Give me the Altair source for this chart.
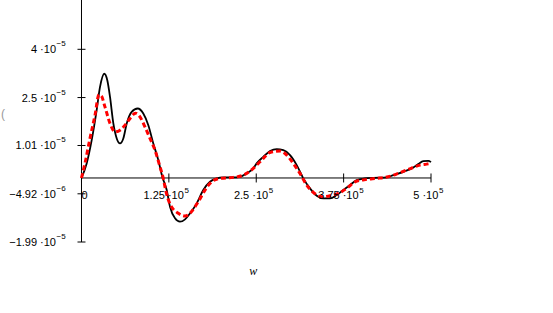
import altair as alt
import pandas as pd

# ---------------- data ----------------
# w in thousands, value in 1e-6
black_w_k = [0, 7.4, 14.6, 21.7, 26.5, 32.6, 36.9, 40.8, 45.5, 50.4,
             55.1, 59.8, 64.7, 71.8, 80.4, 88.4, 95.6, 102.7, 109.9, 115.6,
             121.9, 126.6, 133.8, 140.9, 148.1, 155.3, 164.8, 174.2, 183.8, 193.4,
             202.9, 217.2, 226.7, 236.3, 245.8, 250.6, 260.1, 269.7, 279.3, 288.7,
             298.3, 307.9, 317.3, 326.9, 336.5, 345.9, 355.5, 365.1, 374.5, 384.1,
             393.7, 405.6, 417.4, 436.6, 446.1, 460.4, 472.4, 481.8, 489.0, 496.1, 500]
black_v_u = [0, 4.53, 11.76, 21.07, 28.30, 32.4, 30.38, 25.20, 17.04, 12.29,
             10.74, 12.29, 16.94, 20.54, 21.60, 20.04, 16.41, 10.74, 5.55, 0.37,
             -3.75, -8.94, -12.54, -13.59, -12.85, -10.98, -7.88, -3.75, -1.18, -0.12,
             0.19, 0.19, 0.37, 1.43, 2.98, 4.53, 6.58, 8.35, 8.97, 8.66,
             7.11, 4.01, -0.12, -3.23, -5.52, -6.33, -6.33, -5.31, -3.75, -2.20,
             -0.65, -0.12, 0.06, 0.19, 0.90, 1.92, 2.98, 4.31, 5.24, 5.34, 4.93]

red_w_k = [0, 5.0, 12.2, 19.3, 25.0, 28.5, 33.6, 40.8, 47.9, 55.1,
           62.2, 69.4, 77.3, 83.7, 90.8, 98.0, 105.1, 112.3, 117.0, 120.5,
           126.6, 138.5, 148.1, 167.1, 176.7, 186.3, 198.1, 217.2, 231.5, 245.8,
           250.6, 260.1, 269.7, 284.0, 293.6, 303.0, 312.6, 322.2, 331.6, 343.6,
           355.5, 367.4, 379.4, 391.3, 408.0, 422.3, 438.9, 453.2, 467.5, 484.3,
           493.8, 500]
red_v_u = [0, 4.62, 12.38, 19.52, 25.9, 25.5, 22.09, 16.94, 14.34, 14.86,
           16.41, 18.49, 20.14, 19.0, 15.89, 12.29, 8.66, 3.48, -0.12, -3.9,
           -8.1, -10.98, -11.82, -7.38, -3.75, -1.18, -0.12, 0.19, 0.90, 2.98,
           4.0, 6.08, 7.94, 8.35, 7.11, 4.53, 1.43, -2.20, -4.47, -5.83,
           -5.52, -4.78, -3.23, -1.18, -0.43, -0.12, 0.37, 1.43, 2.67, 4.00,
           4.31, 4.53]

y_tick_values = [4e-5, 2.5e-5, 1.01e-5, -4.92e-6, -1.99e-5]
y_tick_mant = ["4", "2.5", "1.01", "\u22124.92", "\u22121.99"]
y_tick_exp = ["\u22125", "\u22125", "\u22125", "\u22126", "\u22125"]

x_tick_values = [0, 1.25e5, 2.5e5, 3.75e5, 5e5]
x_tick_mant = ["0", "1.25", "2.5", "3.75", "5"]
x_tick_exp = ["", "5", "5", "5", "5"]

x_title = "w"
y_title_fragment = "("

# ---------------- layout ----------------
W, H = 553, 313
X_DOMAIN = [-116595, 674535]
Y_DOMAIN = [-4.197e-5, 5.5325e-5]
Y_AXIS_BOTTOM = y_tick_values[-1]
X_AXIS_END = x_tick_values[-1]

xs = alt.Scale(domain=X_DOMAIN, nice=False, zero=False)
ys = alt.Scale(domain=Y_DOMAIN, nice=False, zero=False)


def XD(v):
    return alt.XDatum(v, type="quantitative", scale=xs, axis=None)


def YD(v):
    return alt.YDatum(v, type="quantitative", scale=ys, axis=None)


FONT = "Liberation Sans"

black_df = pd.DataFrame({"w": [w * 1e3 for w in black_w_k],
                         "v": [v * 1e-6 for v in black_v_u]})
red_df = pd.DataFrame({"w": [w * 1e3 for w in red_w_k],
                       "v": [v * 1e-6 for v in red_v_u]})
ytick_df = pd.DataFrame({"v": y_tick_values,
                         "base": [m + " \u00b710" for m in y_tick_mant],
                         "exp": y_tick_exp})
xtick_df = pd.DataFrame({"w": x_tick_values})

one = pd.DataFrame({"a": [0]})

# axis lines
y_axis = alt.Chart(one).mark_rule(color="black", strokeWidth=1).encode(
    x=XD(0), y=YD(Y_AXIS_BOTTOM), y2=alt.Y2Datum(Y_DOMAIN[1]))
x_axis = alt.Chart(one).mark_rule(color="black", strokeWidth=1).encode(
    x=XD(0), x2=alt.X2Datum(X_AXIS_END), y=YD(0))

y_ticks = alt.Chart(ytick_df).mark_rule(color="black", strokeWidth=1,
                                        xOffset=-4, x2Offset=4).encode(
    x=XD(0), x2=alt.X2Datum(0),
    y=alt.Y("v:Q", scale=ys, axis=None))
x_ticks = alt.Chart(xtick_df).mark_rule(color="black", strokeWidth=1,
                                        yOffset=-4.5, y2Offset=4.5).encode(
    x=alt.X("w:Q", scale=xs, axis=None),
    y=YD(0), y2=alt.Y2Datum(0))

# curves
black_line = alt.Chart(black_df).mark_line(
    color="black", strokeWidth=1.8, interpolate="monotone").encode(
    x=alt.X("w:Q", scale=xs, axis=None),
    y=alt.Y("v:Q", scale=ys, axis=None))
red_line = alt.Chart(red_df).mark_line(
    color="#ff0000", strokeWidth=3, strokeDash=[5, 3],
    interpolate="monotone").encode(
    x=alt.X("w:Q", scale=xs, axis=None),
    y=alt.Y("v:Q", scale=ys, axis=None))

# y labels
y_base = alt.Chart(ytick_df).mark_text(
    align="right", baseline="alphabetic", dx=-25.5, dy=4,
    font=FONT, fontSize=11, color="black").encode(
    x=XD(0), y=alt.Y("v:Q", scale=ys, axis=None), text="base:N")
y_exp = alt.Chart(ytick_df).mark_text(
    align="left", baseline="alphabetic", dx=-25, dy=-3,
    font=FONT, fontSize=8, color="black").encode(
    x=XD(0), y=alt.Y("v:Q", scale=ys, axis=None), text="exp:N")

# x labels (one layer per label so that base and exponent abut)
CW11 = {"0": 6.12, "1": 6.12, "2": 6.12, "3": 6.12, "4": 6.12, "5": 6.12,
        "6": 6.12, "7": 6.12, "8": 6.12, "9": 6.12, ".": 3.06, " ": 3.06,
        "\u00b7": 3.67, "\u2212": 6.42}


def tw(s, size):
    return sum(CW11.get(c, 6.12) for c in s) * size / 11.0


x_label_layers = []
for val, mant, ex in zip(x_tick_values, x_tick_mant, x_tick_exp):
    if ex:
        base = mant + " \u00b710"
        wb = tw(base, 11)
        we = tw(ex, 8)
        anchor = -3 - (wb + we) / 2 + wb
        x_label_layers.append(alt.Chart(one).mark_text(
            align="right", baseline="alphabetic", dx=anchor, dy=21.5,
            font=FONT, fontSize=11, color="black").encode(
            x=XD(val), y=YD(0), text=alt.value(base)))
        x_label_layers.append(alt.Chart(one).mark_text(
            align="left", baseline="alphabetic", dx=anchor + 0.7, dy=15,
            font=FONT, fontSize=8, color="black").encode(
            x=XD(val), y=YD(0), text=alt.value(ex)))
    else:
        x_label_layers.append(alt.Chart(one).mark_text(
            align="center", baseline="alphabetic", dx=3, dy=21.5,
            font=FONT, fontSize=11, color="black").encode(
            x=XD(val), y=YD(0), text=alt.value(mant)))

title = alt.Chart(one).mark_text(
    align="center", baseline="alphabetic", dx=-3, dy=33,
    font="Liberation Serif", fontStyle="italic", fontSize=12,
    color="black").encode(
    x=XD(x_tick_values[2]), y=YD(Y_AXIS_BOTTOM), text=alt.value(x_title))

fragment = alt.Chart(one).mark_text(
    align="left", baseline="middle", fontSize=12, font=FONT,
    color="#999999").encode(
    x=alt.value(1), y=alt.value(114), text=alt.value(y_title_fragment))

chart = alt.layer(
    y_axis, x_axis, y_ticks, x_ticks, black_line, red_line,
    y_base, y_exp, *x_label_layers, title, fragment
).properties(
    width=W, height=H, padding=0,
    autosize=alt.AutoSizeParams(type="none"),
    background="white"
).configure_view(strokeWidth=0)

chart.save("out.html", embed_options={"renderer": "svg", "actions": False})
